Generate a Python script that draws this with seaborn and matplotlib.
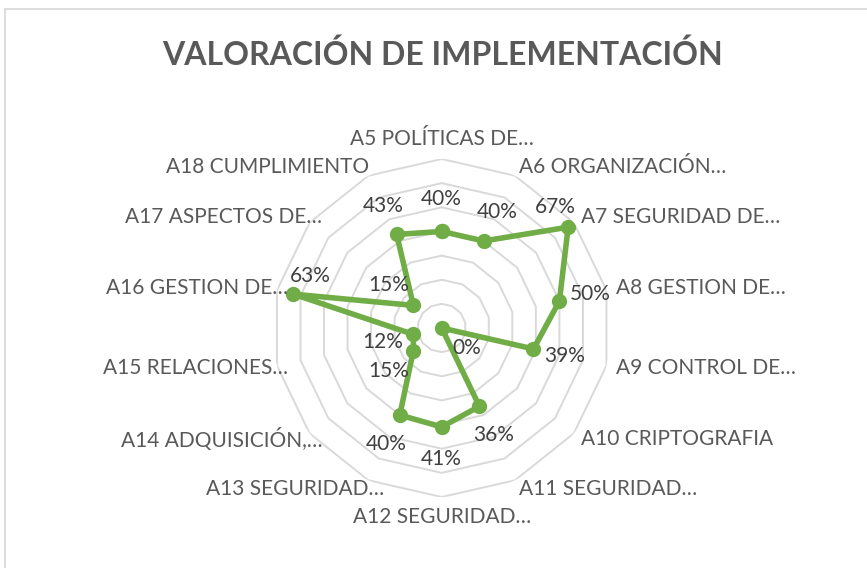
import numpy as np
import matplotlib.pyplot as plt
import matplotlib.patches as mpatches
import seaborn as sns

categories = ["A5 POLÍTICAS DE…", "A6 ORGANIZACIÓN…", "A7 SEGURIDAD DE…", "A8 GESTION DE…",
              "A9 CONTROL DE…", "A10 CRIPTOGRAFIA", "A11 SEGURIDAD…", "A12 SEGURIDAD…",
              "A13 SEGURIDAD…", "A14 ADQUISICIÓN,…", "A15 RELACIONES…", "A16 GESTION DE…",
              "A17 ASPECTOS DE…", "A18 CUMPLIMIENTO"]
values = [0.40, 0.40, 0.67, 0.50, 0.39, 0.00, 0.36, 0.41, 0.40, 0.15, 0.12, 0.63, 0.15, 0.43]
grid_levels = [0.1, 0.2, 0.3, 0.4, 0.5, 0.6, 0.7]

sns.set_theme(style="white")
plt.rcParams['font.family'] = ['Lato', 'DejaVu Sans']

W, H = 867, 568
fig = plt.figure(figsize=(W / 100, H / 100), dpi=100)

# outer chart border
fig.patches.append(mpatches.Rectangle((5 / W, -0.1), 1.2, (H - 9) / H + 0.1, transform=fig.transFigure,
                                      fill=False, edgecolor='#D9D9D9', lw=1.3))

cx, cy, R = 441.7, H - 328, 169
ax = fig.add_axes([(cx - R) / W, (cy - R) / H, 2 * R / W, 2 * R / H], projection='polar')
ax.set_theta_zero_location('N')
ax.set_theta_direction(-1)
ax.set_ylim(0, 0.7)
ax.grid(False)
ax.set_xticks([])
ax.set_yticks([])
ax.spines['polar'].set_visible(False)
ax.patch.set_alpha(0)

n = len(categories)
theta = np.linspace(0, 2 * np.pi, n, endpoint=False)
theta_c = np.append(theta, theta[0] + 2 * np.pi)

for lv in grid_levels:
    ax.plot(theta_c, [lv] * (n + 1), color='#D9D9D9', lw=1.4, zorder=1)

sns.lineplot(x=theta_c, y=values + values[:1], sort=False, ax=ax, color='#70AD47', lw=4,
             marker='o', markersize=11, markeredgewidth=0, zorder=3)
ax.set_xlabel('')
ax.set_ylabel('')

# category labels (excel nudges the truncated ones on the left inward)
for t, lab in zip(theta, categories):
    s, c = np.sin(t), np.cos(t)
    ha = 'left' if s > 0.01 else ('right' if s < -0.01 else 'center')
    va = 'center'
    if abs(s) < 0.01:
        va = 'bottom' if c > 0 else 'top'
    shift = 0
    if ha == 'right':
        shift = 20 if lab.endswith('…') else 5
    ax.annotate(lab, (t, 0.74), xytext=(shift, 0), textcoords='offset pixels', ha=ha, va=va,
                fontsize=15, color='#595959', annotation_clip=False)

# data labels
special = {2: (-13, 20), 11: (17, 18)}
for i, (t, v) in enumerate(zip(theta, values)):
    dx, dy = special.get(i, (32 * np.sin(t), 32 * np.cos(t)))
    ax.annotate(f"{v:.0%}", (t, v), xytext=(dx, dy), textcoords='offset pixels',
                ha='center', va='center', fontsize=15, color='#404040')

fig.text(443 / W, 1 - 55 / H, "VALORACIÓN DE IMPLEMENTACIÓN", ha='center', va='center',
         fontsize=23, fontweight='bold', color='#595959')

fig.savefig('out.png', dpi=100)
